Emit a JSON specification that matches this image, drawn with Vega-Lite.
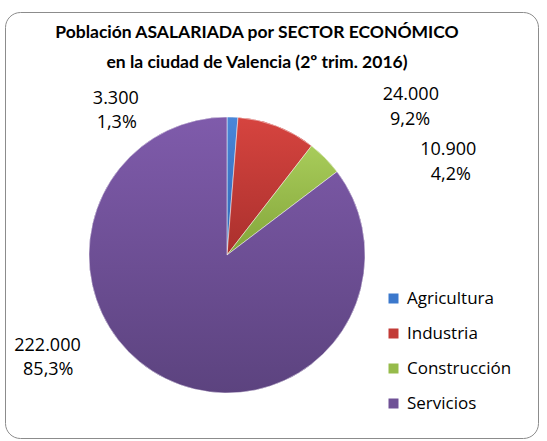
{
  "$schema": "https://vega.github.io/schema/vega-lite/v6.json",
  "width": 454,
  "height": 372,
  "autosize": {"type": "none"},
  "padding": {"left": 0, "top": 69, "right": 93, "bottom": 0},
  "background": "white",
  "title": {
    "text": ["Población ASALARIADA por SECTOR ECONÓMICO", "en la ciudad de Valencia (2º trim. 2016)"],
    "font": "Lato",
    "fontSize": 17.5,
    "fontWeight": "bold",
    "color": "#000000",
    "anchor": "middle",
    "dx": 30,
    "baseline": "bottom",
    "lineHeight": 30,
    "offset": -78
  },
  "data": {
    "values": [
      {"sector": "Agricultura", "value": 3300, "pct": 0.013},
      {"sector": "Industria", "value": 24000, "pct": 0.092},
      {"sector": "Construcción", "value": 10900, "pct": 0.042},
      {"sector": "Servicios", "value": 222000, "pct": 0.853}
    ]
  },
  "transform": [{"window": [{"op": "row_number", "as": "idx"}]}],
  "layer": [
    {
      "mark": {"type": "arc", "outerRadius": 138},
      "encoding": {
        "theta": {"field": "value", "type": "quantitative", "stack": true},
        "order": {"field": "idx", "type": "quantitative"},
        "color": {
          "field": "sector",
          "type": "nominal",
          "scale": {
            "domain": ["Agricultura", "Industria", "Construcción", "Servicios"],
            "range": ["#3b78cc", "#c23b37", "#96bb4b", "#6f5196"]
          },
          "legend": {
            "title": " ",
            "orient": "none",
            "legendX": 5,
            "legendY": -57,
            "padding": 26,
            "strokeColor": "#8c8c8c",
            "cornerRadius": 15,
            "symbolType": "square",
            "symbolSize": 100,
            "symbolStrokeWidth": 0,
            "symbolOffset": 354,
            "labelOffset": 5,
            "labelFont": "Open Sans",
            "labelFontSize": 17,
            "labelColor": "#000000",
            "labelExpr": "datum.label + '  '",
            "rowPadding": 17,
            "titleFontSize": 10,
            "titlePadding": 242
          }
        }
      }
    },
    {
      "mark": {"type": "arc", "outerRadius": 138, "stroke": "#ffffff", "strokeWidth": 0.5},
      "encoding": {
        "theta": {"field": "value", "type": "quantitative", "stack": true},
        "order": {"field": "idx", "type": "quantitative"},
        "color": {
          "condition": [
            {"test": "datum.sector === 'Agricultura'", "value": {"gradient": "linear", "x1": 0, "y1": 0, "x2": 0, "y2": 1, "stops": [{"offset": 0, "color": "#4a86d8"}, {"offset": 1, "color": "#2e66b5"}]}},
            {"test": "datum.sector === 'Industria'", "value": {"gradient": "linear", "x1": 0, "y1": 0, "x2": 0, "y2": 1, "stops": [{"offset": 0, "color": "#d6443f"}, {"offset": 1, "color": "#aa302d"}]}},
            {"test": "datum.sector === 'Construcción'", "value": {"gradient": "linear", "x1": 0, "y1": 0, "x2": 0, "y2": 1, "stops": [{"offset": 0, "color": "#a8cc5a"}, {"offset": 1, "color": "#83a53a"}]}}
          ],
          "value": {"gradient": "linear", "x1": 0, "y1": 0, "x2": 0, "y2": 1, "stops": [{"offset": 0, "color": "#7f5bab"}, {"offset": 1, "color": "#5c437f"}]}
        }
      }
    },
    {
      "mark": {"type": "text", "font": "Open Sans", "fontSize": 18, "baseline": "alphabetic", "align": "center", "color": "#000000", "dx": -116.7, "dy": -13.1},
      "encoding": {
        "theta": {"field": "value", "type": "quantitative", "stack": true},
        "order": {"field": "idx", "type": "quantitative"},
        "radius": {"value": 138},
        "text": {"condition": {"test": "datum.sector === 'Agricultura'", "field": "value", "type": "quantitative", "format": ",.0f"}, "value": ""}
      }
    },
    {
      "mark": {"type": "text", "font": "Open Sans", "fontSize": 18, "baseline": "alphabetic", "align": "center", "color": "#000000", "dx": -115.8, "dy": 10.9},
      "encoding": {
        "theta": {"field": "value", "type": "quantitative", "stack": true},
        "order": {"field": "idx", "type": "quantitative"},
        "radius": {"value": 138},
        "text": {"condition": {"test": "datum.sector === 'Agricultura'", "field": "pct", "type": "quantitative", "format": ".1%"}, "value": ""}
      }
    },
    {
      "mark": {"type": "text", "font": "Open Sans", "fontSize": 18, "baseline": "alphabetic", "align": "center", "color": "#000000", "dx": 134, "dy": -26.3},
      "encoding": {
        "theta": {"field": "value", "type": "quantitative", "stack": true},
        "order": {"field": "idx", "type": "quantitative"},
        "radius": {"value": 138},
        "text": {"condition": {"test": "datum.sector === 'Industria'", "field": "value", "type": "quantitative", "format": ",.0f"}, "value": ""}
      }
    },
    {
      "mark": {"type": "text", "font": "Open Sans", "fontSize": 18, "baseline": "alphabetic", "align": "center", "color": "#000000", "dx": 133.2, "dy": -1.3},
      "encoding": {
        "theta": {"field": "value", "type": "quantitative", "stack": true},
        "order": {"field": "idx", "type": "quantitative"},
        "radius": {"value": 138},
        "text": {"condition": {"test": "datum.sector === 'Industria'", "field": "pct", "type": "quantitative", "format": ".1%"}, "value": ""}
      }
    },
    {
      "mark": {"type": "text", "font": "Open Sans", "fontSize": 18, "baseline": "alphabetic", "align": "center", "color": "#000000", "dx": 123.2, "dy": -2.9},
      "encoding": {
        "theta": {"field": "value", "type": "quantitative", "stack": true},
        "order": {"field": "idx", "type": "quantitative"},
        "radius": {"value": 138},
        "text": {"condition": {"test": "datum.sector === 'Construcción'", "field": "value", "type": "quantitative", "format": ",.0f"}, "value": ""}
      }
    },
    {
      "mark": {"type": "text", "font": "Open Sans", "fontSize": 18, "baseline": "alphabetic", "align": "center", "color": "#000000", "dx": 125.7, "dy": 22.1},
      "encoding": {
        "theta": {"field": "value", "type": "quantitative", "stack": true},
        "order": {"field": "idx", "type": "quantitative"},
        "radius": {"value": 138},
        "text": {"condition": {"test": "datum.sector === 'Construcción'", "field": "pct", "type": "quantitative", "format": ".1%"}, "value": ""}
      }
    },
    {
      "mark": {"type": "text", "font": "Open Sans", "fontSize": 18, "baseline": "alphabetic", "align": "center", "color": "#000000", "dx": -118.1, "dy": -27.9},
      "encoding": {
        "theta": {"field": "value", "type": "quantitative", "stack": true},
        "order": {"field": "idx", "type": "quantitative"},
        "radius": {"value": 138},
        "text": {"condition": {"test": "datum.sector === 'Servicios'", "field": "value", "type": "quantitative", "format": ",.0f"}, "value": ""}
      }
    },
    {
      "mark": {"type": "text", "font": "Open Sans", "fontSize": 18, "baseline": "alphabetic", "align": "center", "color": "#000000", "dx": -117.3, "dy": -3.6},
      "encoding": {
        "theta": {"field": "value", "type": "quantitative", "stack": true},
        "order": {"field": "idx", "type": "quantitative"},
        "radius": {"value": 138},
        "text": {"condition": {"test": "datum.sector === 'Servicios'", "field": "pct", "type": "quantitative", "format": ".1%"}, "value": ""}
      }
    }
  ],
  "config": {
    "view": {"stroke": null},
    "locale": {
      "number": {"decimal": ",", "thousands": ".", "grouping": [3], "currency": ["", " €"]}
    }
  }
}
